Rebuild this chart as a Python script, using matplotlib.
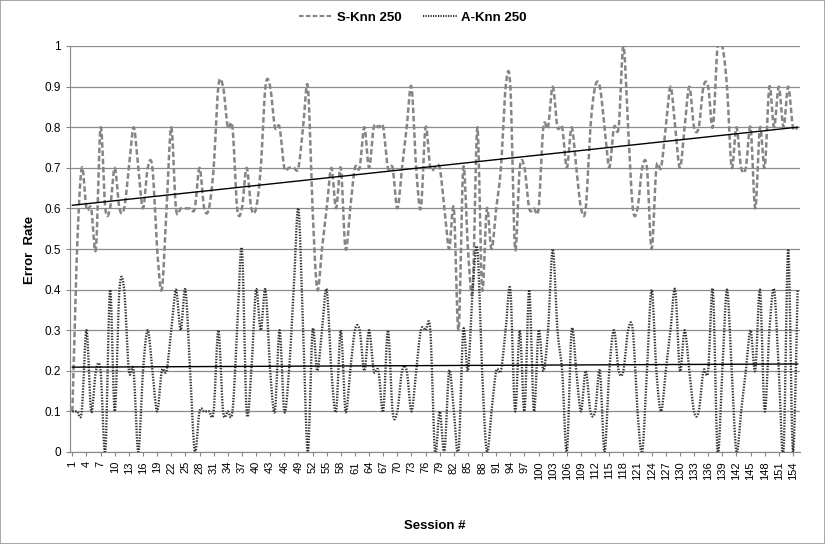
import numpy as np
import matplotlib.pyplot as plt
from matplotlib.lines import Line2D
from matplotlib.patches import Rectangle

plt.rcParams['font.family'] = ['Liberation Sans', 'DejaVu Sans']

sessions = list(range(1, 156))
series_names = ["S-Knn 250", "A-Knn 250"]

s_knn = [
    0.1, 0.5, 0.7, 0.6, 0.6, 0.5, 0.8, 0.6, 0.6, 0.7,
    0.6, 0.6, 0.7, 0.8, 0.7, 0.6, 0.7, 0.7, 0.5, 0.4,
    0.6, 0.8, 0.6, 0.6, 0.6, 0.6, 0.6, 0.7, 0.6, 0.6,
    0.7, 0.9, 0.9, 0.8, 0.8, 0.6, 0.6, 0.7, 0.6, 0.6,
    0.7, 0.9, 0.9, 0.8, 0.8, 0.7, 0.7, 0.7, 0.7, 0.8,
    0.9, 0.6, 0.4, 0.5, 0.6, 0.7, 0.6, 0.7, 0.5, 0.6,
    0.7, 0.7, 0.8, 0.7, 0.8, 0.8, 0.8, 0.7, 0.7, 0.6,
    0.7, 0.8, 0.9, 0.7, 0.6, 0.8, 0.7, 0.7, 0.7, 0.6,
    0.5, 0.6, 0.3, 0.7, 0.5, 0.4, 0.8, 0.4, 0.6, 0.5,
    0.6, 0.7, 0.9, 0.9, 0.5, 0.7, 0.7, 0.6, 0.6, 0.6,
    0.8, 0.8, 0.9, 0.8, 0.8, 0.7, 0.8, 0.7, 0.6, 0.6,
    0.8, 0.9, 0.9, 0.8, 0.7, 0.8, 0.8, 1.0, 0.8, 0.6,
    0.6, 0.7, 0.7, 0.5, 0.7, 0.7, 0.8, 0.9, 0.8, 0.7,
    0.8, 0.9, 0.8, 0.8, 0.9, 0.9, 0.8, 1.0, 1.0, 0.9,
    0.7, 0.8, 0.7, 0.7, 0.8, 0.6, 0.8, 0.7, 0.9, 0.8,
    0.9, 0.8, 0.9, 0.8, 0.8,
]

a_knn = [
    0.1, 0.1, 0.1, 0.3, 0.1, 0.2, 0.2, 0.0, 0.4, 0.1,
    0.4, 0.4, 0.2, 0.2, 0.0, 0.2, 0.3, 0.2, 0.1, 0.2,
    0.2, 0.3, 0.4, 0.3, 0.4, 0.2, 0.0, 0.1, 0.1, 0.1,
    0.1, 0.3, 0.1, 0.1, 0.1, 0.3, 0.5, 0.1, 0.2, 0.4,
    0.3, 0.4, 0.2, 0.1, 0.3, 0.1, 0.2, 0.4, 0.6, 0.3,
    0.0, 0.3, 0.2, 0.3, 0.4, 0.2, 0.1, 0.3, 0.1, 0.2,
    0.3, 0.3, 0.2, 0.3, 0.2, 0.2, 0.1, 0.3, 0.1, 0.1,
    0.2, 0.2, 0.1, 0.2, 0.3, 0.3, 0.3, 0.0, 0.1, 0.0,
    0.2, 0.1, 0.0, 0.3, 0.2, 0.4, 0.5, 0.2, 0.0, 0.1,
    0.2, 0.2, 0.3, 0.4, 0.1, 0.3, 0.1, 0.4, 0.1, 0.3,
    0.2, 0.3, 0.5, 0.3, 0.2, 0.0, 0.3, 0.2, 0.1, 0.2,
    0.1, 0.1, 0.2, 0.0, 0.2, 0.3, 0.2, 0.2, 0.3, 0.3,
    0.1, 0.0, 0.2, 0.4, 0.2, 0.1, 0.2, 0.3, 0.4, 0.2,
    0.3, 0.2, 0.1, 0.1, 0.2, 0.2, 0.4, 0.0, 0.2, 0.4,
    0.2, 0.0, 0.1, 0.2, 0.3, 0.2, 0.4, 0.1, 0.3, 0.4,
    0.2, 0.0, 0.5, 0.0, 0.4,
]

y_ticks = [0, 0.1, 0.2, 0.3, 0.4, 0.5, 0.6, 0.7, 0.8, 0.9, 1.0]
y_tick_labels = ["0", "0.1", "0.2", "0.3", "0.4", "0.5", "0.6", "0.7", "0.8", "0.9", "1"]


def smooth(x, y, steps=10):
    # Bezier smoothing like Excel's "smoothed line"
    x = np.asarray(x, float)
    y = np.asarray(y, float)
    px = np.concatenate([[x[0]], x, [x[-1]]])
    py = np.concatenate([[y[0]], y, [y[-1]]])
    t = np.linspace(0, 1, steps, endpoint=False)[:, None]
    p0x, p1x, p2x, p3x = px[:-3], px[1:-2], px[2:-1], px[3:]
    p0y, p1y, p2y, p3y = py[:-3], py[1:-2], py[2:-1], py[3:]
    c1x, c2x = p1x + (p2x - p0x) / 6, p2x - (p3x - p1x) / 6
    c1y, c2y = p1y + (p2y - p0y) / 6, p2y - (p3y - p1y) / 6
    b0, b1, b2, b3 = (1 - t) ** 3, 3 * (1 - t) ** 2 * t, 3 * (1 - t) * t ** 2, t ** 3
    bx = b0 * p1x + b1 * c1x + b2 * c2x + b3 * p2x
    by = b0 * p1y + b1 * c1y + b2 * c2y + b3 * p2y
    bx = np.append(bx.T.ravel(), x[-1])
    by = np.append(by.T.ravel(), y[-1])
    return bx, by


fig = plt.figure(figsize=(8.25, 5.44), dpi=100)
ax = fig.add_axes([70 / 825, 92 / 544, 730 / 825, 406 / 544])

sx, sy = smooth(sessions, s_knn)
ax.plot(sx, sy, color="#858585", lw=1.8, linestyle=(0, (2.2, 1.1)), zorder=3)
axx, ayy = smooth(sessions, a_knn)
ax.plot(axx, ayy, color="#333333", lw=1.7, linestyle=(0, (0.6, 0.6)), zorder=3)

# linear trend lines
for vals in (s_knn, a_knn):
    k, b = np.polyfit(sessions, vals, 1)
    xs = np.array([sessions[0], sessions[-1]])
    ax.plot(xs, k * xs + b, color="black", lw=1.0, zorder=4)

ax.set_xlim(0.5, len(sessions) + 0.5)
ax.set_ylim(0, 1)
ax.set_yticks(y_ticks)
ax.set_yticklabels(y_tick_labels, fontsize=8.5)
ax.set_xticks(sessions[::3])
ax.set_xticklabels([str(s) for s in sessions[::3]], rotation=90, fontsize=8)
ax.yaxis.grid(True, color="#8c8c8c", lw=0.9)
ax.set_axisbelow(True)
for side in ("top", "right"):
    ax.spines[side].set_visible(False)
for side in ("left", "bottom"):
    ax.spines[side].set_color("#868686")
ax.tick_params(axis="both", colors="#868686", labelcolor="black", length=3)

fig.text(30 / 825, 1 - 250 / 544, "Error  Rate", fontsize=9.5, fontweight="bold",
         rotation=90, ha="center", va="center")
fig.text(435 / 825, 1 - 526 / 544, "Session #", fontsize=9.5, fontweight="bold",
         ha="center", va="center")

handles = [
    Line2D([], [], color="#858585", lw=1.5, linestyle=(0, (2.2, 1.1))),
    Line2D([], [], color="#333333", lw=1.5, linestyle=(0, (0.6, 0.6))),
]
fig.legend(handles, series_names, loc="center", bbox_to_anchor=(0.5, 0.968), ncol=2,
           frameon=False, prop={"weight": "bold", "size": 9.5}, handlelength=2.6,
           handletextpad=0.3, columnspacing=1.6)

fig.patches.append(Rectangle((0, 0), 1, 1, transform=fig.transFigure, fill=False,
                             edgecolor="#9a9a9a", lw=1.2))

fig.savefig("out.png", dpi=100)
